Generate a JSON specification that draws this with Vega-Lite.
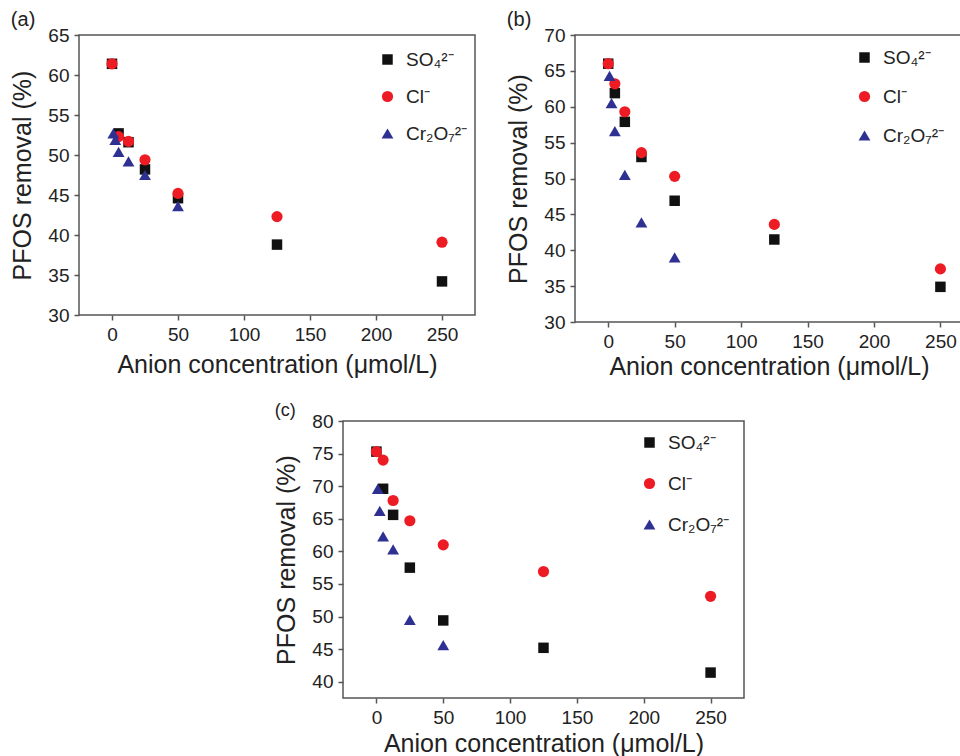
{
  "$schema": "https://vega.github.io/schema/vega-lite/v6.json",
  "background": "white",
  "padding": {"left": 10, "top": 9, "right": 0, "bottom": 0},
  "config": {
    "font": "Liberation Sans",
    "view": {"stroke": "#555555", "strokeWidth": 1.5},
    "axis": {
      "domain": false, "grid": false,
      "labelFont": "Liberation Sans", "labelFontSize": 19, "labelColor": "#222222", "labelPadding": 5,
      "titleFont": "Liberation Sans", "titleFontSize": 25, "titleFontWeight": "normal", "titleColor": "#222222",
      "tickColor": "#555555", "tickSize": 5, "tickWidth": 1.5
    },
    "axisX": {"titlePadding": 5},
    "axisY": {"titlePadding": 12},
    "legend": {"labelFont": "Liberation Sans", "labelFontSize": 19, "labelColor": "#222222", "symbolSize": 120, "labelOffset": 9, "padding": 0, "symbolStrokeWidth": 0, "symbolOpacity": 1},
    "title": {"anchor": "start", "frame": "bounds", "fontSize": 20, "fontWeight": "normal", "color": "#222222", "font": "Liberation Sans"}
  },
  "datasets": {
    "a": [
      {"anion": "SO₄²⁻", "conc": 0, "removal": 61.4},
      {"anion": "SO₄²⁻", "conc": 5, "removal": 52.7},
      {"anion": "SO₄²⁻", "conc": 12.5, "removal": 51.6},
      {"anion": "SO₄²⁻", "conc": 25, "removal": 48.2},
      {"anion": "SO₄²⁻", "conc": 50, "removal": 44.6},
      {"anion": "SO₄²⁻", "conc": 125, "removal": 38.8},
      {"anion": "SO₄²⁻", "conc": 250, "removal": 34.2},
      {"anion": "Cl⁻", "conc": 0, "removal": 61.4},
      {"anion": "Cl⁻", "conc": 5, "removal": 52.3},
      {"anion": "Cl⁻", "conc": 12.5, "removal": 51.7},
      {"anion": "Cl⁻", "conc": 25, "removal": 49.4},
      {"anion": "Cl⁻", "conc": 50, "removal": 45.2},
      {"anion": "Cl⁻", "conc": 125, "removal": 42.3},
      {"anion": "Cl⁻", "conc": 250, "removal": 39.1},
      {"anion": "Cr₂O₇²⁻", "conc": 1, "removal": 52.7},
      {"anion": "Cr₂O₇²⁻", "conc": 2.5, "removal": 51.9},
      {"anion": "Cr₂O₇²⁻", "conc": 5, "removal": 50.4},
      {"anion": "Cr₂O₇²⁻", "conc": 12.5, "removal": 49.2},
      {"anion": "Cr₂O₇²⁻", "conc": 25, "removal": 47.5},
      {"anion": "Cr₂O₇²⁻", "conc": 50, "removal": 43.6}
    ],
    "b": [
      {"anion": "SO₄²⁻", "conc": 0, "removal": 66.0},
      {"anion": "SO₄²⁻", "conc": 5, "removal": 61.9},
      {"anion": "SO₄²⁻", "conc": 12.5, "removal": 57.9},
      {"anion": "SO₄²⁻", "conc": 25, "removal": 53.0},
      {"anion": "SO₄²⁻", "conc": 50, "removal": 46.9},
      {"anion": "SO₄²⁻", "conc": 125, "removal": 41.5},
      {"anion": "SO₄²⁻", "conc": 250, "removal": 34.9},
      {"anion": "Cl⁻", "conc": 0, "removal": 66.0},
      {"anion": "Cl⁻", "conc": 5, "removal": 63.2},
      {"anion": "Cl⁻", "conc": 12.5, "removal": 59.3},
      {"anion": "Cl⁻", "conc": 25, "removal": 53.6},
      {"anion": "Cl⁻", "conc": 50, "removal": 50.3},
      {"anion": "Cl⁻", "conc": 125, "removal": 43.6},
      {"anion": "Cl⁻", "conc": 250, "removal": 37.4},
      {"anion": "Cr₂O₇²⁻", "conc": 1, "removal": 64.3},
      {"anion": "Cr₂O₇²⁻", "conc": 2.5, "removal": 60.5},
      {"anion": "Cr₂O₇²⁻", "conc": 5, "removal": 56.6},
      {"anion": "Cr₂O₇²⁻", "conc": 12.5, "removal": 50.5},
      {"anion": "Cr₂O₇²⁻", "conc": 25, "removal": 43.9},
      {"anion": "Cr₂O₇²⁻", "conc": 50, "removal": 39.0}
    ],
    "c": [
      {"anion": "SO₄²⁻", "conc": 0, "removal": 75.3},
      {"anion": "SO₄²⁻", "conc": 5, "removal": 69.6},
      {"anion": "SO₄²⁻", "conc": 12.5, "removal": 65.6},
      {"anion": "SO₄²⁻", "conc": 25, "removal": 57.5},
      {"anion": "SO₄²⁻", "conc": 50, "removal": 49.4},
      {"anion": "SO₄²⁻", "conc": 125, "removal": 45.2},
      {"anion": "SO₄²⁻", "conc": 250, "removal": 41.4},
      {"anion": "Cl⁻", "conc": 0, "removal": 75.3},
      {"anion": "Cl⁻", "conc": 5, "removal": 74.0},
      {"anion": "Cl⁻", "conc": 12.5, "removal": 67.8},
      {"anion": "Cl⁻", "conc": 25, "removal": 64.7},
      {"anion": "Cl⁻", "conc": 50, "removal": 61.0},
      {"anion": "Cl⁻", "conc": 125, "removal": 56.9},
      {"anion": "Cl⁻", "conc": 250, "removal": 53.1},
      {"anion": "Cr₂O₇²⁻", "conc": 1, "removal": 69.6},
      {"anion": "Cr₂O₇²⁻", "conc": 2.5, "removal": 66.2},
      {"anion": "Cr₂O₇²⁻", "conc": 5, "removal": 62.3},
      {"anion": "Cr₂O₇²⁻", "conc": 12.5, "removal": 60.3},
      {"anion": "Cr₂O₇²⁻", "conc": 25, "removal": 49.5},
      {"anion": "Cr₂O₇²⁻", "conc": 50, "removal": 45.6}
    ]
  },
  "resolve": {"scale": {"color": "independent", "shape": "independent", "size": "independent"}, "legend": {"color": "independent", "shape": "independent", "size": "independent"}},
  "spacing": 21,
  "vconcat": [
    {
      "spacing": 30,
      "resolve": {"scale": {"color": "independent", "shape": "independent", "size": "independent"}, "legend": {"color": "independent", "shape": "independent", "size": "independent"}},
      "hconcat": [
        {
          "data": {"name": "a"},
          "width": 396, "height": 280,
          "title": {"text": "(a)", "offset": -4},
          "mark": {"type": "point", "filled": true, "opacity": 1},
          "encoding": {
            "x": {"field": "conc", "type": "quantitative", "scale": {"domain": [-25, 275], "nice": false, "zero": false}, "axis": {"values": [0, 50, 100, 150, 200, 250], "title": "Anion concentration (μmol/L)", "titlePadding": 8}},
            "y": {"field": "removal", "type": "quantitative", "scale": {"domain": [30, 65], "nice": false, "zero": false}, "axis": {"values": [30, 35, 40, 45, 50, 55, 60, 65], "title": "PFOS removal (%)"}},
            "color": {"field": "anion", "type": "nominal", "scale": {"domain": ["SO₄²⁻", "Cl⁻", "Cr₂O₇²⁻"], "range": ["#111111", "#ed1c24", "#2e3192"]}, "legend": {"orient": "none", "legendX": 299, "legendY": 15, "title": null, "rowPadding": 17}},
            "shape": {"field": "anion", "type": "nominal", "scale": {"domain": ["SO₄²⁻", "Cl⁻", "Cr₂O₇²⁻"], "range": ["square", "circle", "triangle-up"]}, "legend": {"orient": "none", "legendX": 299, "legendY": 15, "title": null, "rowPadding": 17}},
            "size": {"field": "anion", "type": "nominal", "scale": {"domain": ["SO₄²⁻", "Cl⁻", "Cr₂O₇²⁻"], "range": [110, 140, 190]}, "legend": null}
          }
        },
        {
          "data": {"name": "b"},
          "width": 388, "height": 287,
          "title": {"text": "(b)", "offset": -4},
          "mark": {"type": "point", "filled": true, "opacity": 1},
          "encoding": {
            "x": {"field": "conc", "type": "quantitative", "scale": {"domain": [-25, 267], "nice": false, "zero": false}, "axis": {"values": [0, 50, 100, 150, 200, 250], "title": "Anion concentration (μmol/L)", "titlePadding": 3}},
            "y": {"field": "removal", "type": "quantitative", "scale": {"domain": [30, 70], "nice": false, "zero": false}, "axis": {"values": [30, 35, 40, 45, 50, 55, 60, 65, 70], "title": "PFOS removal (%)"}},
            "color": {"field": "anion", "type": "nominal", "scale": {"domain": ["SO₄²⁻", "Cl⁻", "Cr₂O₇²⁻"], "range": ["#111111", "#ed1c24", "#2e3192"]}, "legend": {"orient": "none", "legendX": 280, "legendY": 13, "title": null, "rowPadding": 19}},
            "shape": {"field": "anion", "type": "nominal", "scale": {"domain": ["SO₄²⁻", "Cl⁻", "Cr₂O₇²⁻"], "range": ["square", "circle", "triangle-up"]}, "legend": {"orient": "none", "legendX": 280, "legendY": 13, "title": null, "rowPadding": 19}},
            "size": {"field": "anion", "type": "nominal", "scale": {"domain": ["SO₄²⁻", "Cl⁻", "Cr₂O₇²⁻"], "range": [110, 140, 190]}, "legend": null}
          }
        }
      ]
    },
    {
      "spacing": 0,
      "resolve": {"scale": {"color": "independent", "shape": "independent", "size": "independent"}, "legend": {"color": "independent", "shape": "independent", "size": "independent"}},
      "hconcat": [
        {
          "data": {"values": []},
          "width": 195, "height": 10,
          "view": {"stroke": null},
          "mark": {"type": "point"},
          "encoding": {}
        },
        {
          "data": {"name": "c"},
          "width": 401, "height": 277,
          "title": {"text": "(c)", "offset": -8, "fontSize": 18},
          "mark": {"type": "point", "filled": true, "opacity": 1},
          "encoding": {
            "x": {"field": "conc", "type": "quantitative", "scale": {"domain": [-25, 275], "nice": false, "zero": false}, "axis": {"values": [0, 50, 100, 150, 200, 250], "title": "Anion concentration (μmol/L)", "titlePadding": 4}},
            "y": {"field": "removal", "type": "quantitative", "scale": {"domain": [37.5, 80], "nice": false, "zero": false}, "axis": {"values": [40, 45, 50, 55, 60, 65, 70, 75, 80], "title": "PFOS removal (%)"}},
            "color": {"field": "anion", "type": "nominal", "scale": {"domain": ["SO₄²⁻", "Cl⁻", "Cr₂O₇²⁻"], "range": ["#111111", "#ed1c24", "#2e3192"]}, "legend": {"orient": "none", "legendX": 297, "legendY": 12, "title": null, "rowPadding": 21}},
            "shape": {"field": "anion", "type": "nominal", "scale": {"domain": ["SO₄²⁻", "Cl⁻", "Cr₂O₇²⁻"], "range": ["square", "circle", "triangle-up"]}, "legend": {"orient": "none", "legendX": 297, "legendY": 12, "title": null, "rowPadding": 21}},
            "size": {"field": "anion", "type": "nominal", "scale": {"domain": ["SO₄²⁻", "Cl⁻", "Cr₂O₇²⁻"], "range": [110, 140, 190]}, "legend": null}
          }
        }
      ]
    }
  ]
}
